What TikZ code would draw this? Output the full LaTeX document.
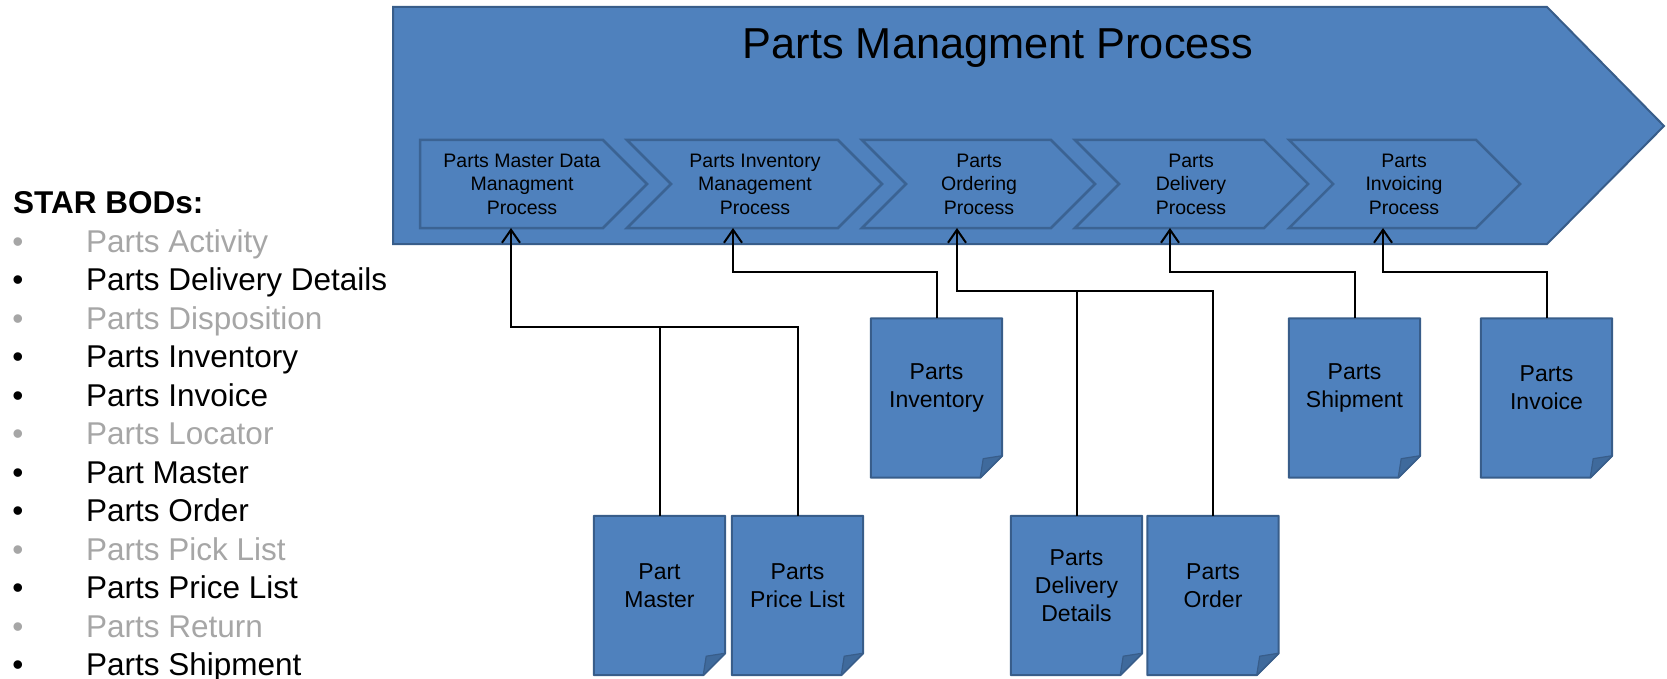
\documentclass[tikz,border=0pt]{standalone}
\usepackage{fontspec}
\setmainfont{Liberation Sans}
\usetikzlibrary{arrows.meta}
\definecolor{procblue}{HTML}{4F81BD}
\definecolor{procedge}{HTML}{385D8A}
\definecolor{chevedge}{HTML}{3B6393}
\definecolor{foldblue}{HTML}{3F6A9C}
\definecolor{listgray}{HTML}{A6A6A6}

% document page: empty slot node, folded-corner outline, caption
\newcommand\docpage[3]{%
  \node[docslot] (#1) at (#2) {};
  \path[docshape] (#1.north west) -- (#1.north east)
     -- ([yshift=22pt]#1.south east) -- ([xshift=-22pt]#1.south east)
     -- (#1.south west) -- cycle;
  \path[docfold] ([yshift=22pt]#1.south east)
     .. controls ([xshift=-10pt,yshift=20pt]#1.south east) .. ([xshift=-19pt,yshift=19pt]#1.south east)
     .. controls ([xshift=-20pt,yshift=10pt]#1.south east) .. ([xshift=-22pt]#1.south east) -- cycle;
  \node[doctext] (#1-label) at ([yshift=10pt]#1.center) {#3};
}

\begin{document}
\begin{tikzpicture}[x=1pt,y=-1pt,
  bigarrow/.style={fill=procblue,draw=procedge,line width=2pt,line join=miter},
  chevshape/.style={fill=procblue,draw=chevedge,line width=2.5pt,line join=miter},
  chevtext/.style={align=center,font=\fontsize{19.5}{23.5}\selectfont,inner sep=0pt},
  docslot/.style={minimum width=131pt,minimum height=159pt,inner sep=0pt,draw=none},
  docshape/.style={fill=procblue,draw=procedge,line width=2pt,line join=round},
  docfold/.style={fill=foldblue,draw=procedge,line width=1.2pt,line join=round},
  doctext/.style={align=center,font=\fontsize{23}{28}\selectfont,inner sep=0pt},
  conn/.style={line width=2pt,draw=black},
  feed/.style={conn,-{Straight Barb[length=13pt,width=18pt,line width=2pt]}},
  listitem/.style={anchor=base west,inner sep=0pt,font=\fontsize{31.5}{38}\selectfont},
  bulletmark/.style={anchor=base,inner sep=0pt,font=\fontsize{31.5}{38}\selectfont},
]
\useasboundingbox (0,0) rectangle (1667,679);

% overall process arrow
\path[bigarrow] (393,7) -- (1547,7) -- (1664,126) -- (1547,244) -- (393,244) -- cycle;
\node[font=\fontsize{43.3}{50}\selectfont,anchor=base,inner sep=0pt] (title) at (998,59) {Parts Managment Process};

% sub-process chevrons
\path[chevshape] (420,140) -- (603,140) -- (647,184) -- (603,228) -- (420,228) -- cycle;
\path[chevshape] (627,140) -- (838,140) -- (882,184) -- (838,228) -- (627,228) -- (671,184) -- cycle;
\path[chevshape] (862,140) -- (1051,140) -- (1095,184) -- (1051,228) -- (862,228) -- (906,184) -- cycle;
\path[chevshape] (1075,140) -- (1264,140) -- (1308,184) -- (1264,228) -- (1075,228) -- (1119,184) -- cycle;
\path[chevshape] (1289,140) -- (1476,140) -- (1520,184) -- (1476,228) -- (1289,228) -- (1333,184) -- cycle;

\node[chevtext] (c1) at (522,184) {Parts Master Data\\Managment\\Process};
\node[chevtext] (c2) at (755,184) {Parts Inventory\\Management\\Process};
\node[chevtext] (c3) at (979,184) {Parts\\Ordering\\Process};
\node[chevtext] (c4) at (1191,184) {Parts\\Delivery\\Process};
\node[chevtext] (c5) at (1404,184) {Parts\\Invoicing\\Process};

% entry points on the chevron bottoms
\coordinate (in1) at (511,228);
\coordinate (in2) at (733,228);
\coordinate (in3) at (957,228);
\coordinate (in4) at (1170,228);
\coordinate (in5) at (1383,228);

% business object documents
\docpage{pm}{659.5,595.5}{Part\\Master}
\docpage{pl}{797.5,595.5}{Parts\\Price List}
\docpage{inv}{936.5,398}{Parts\\Inventory}
\docpage{dd}{1076.5,595.5}{Parts\\Delivery\\Details}
\docpage{po}{1213,595.5}{Parts\\Order}
\docpage{sh}{1354.5,398}{Parts\\Shipment}
\docpage{pi}{1546.5,398}{Parts\\Invoice}

% junctions where two documents share a feed
\coordinate (j1) at (659.5,327);
\coordinate (j3) at (1076.5,291);

% feeds into the sub-processes
\draw[feed] (pm.north) -- (j1) -| (in1);
\draw[conn] (pl.north) |- (j1);
\draw[feed] (inv.north) -- ++(0,-46.5) -| (in2);
\draw[feed] (dd.north) -- (j3) -| (in3);
\draw[conn] (po.north) |- (j3);
\draw[feed] (sh.north) -- ++(0,-46.5) -| (in4);
\draw[feed] (pi.north) -- ++(0,-46.5) -| (in5);

% list of STAR BODs
\node[listitem,font=\bfseries\fontsize{31.5}{38}\selectfont] (bods) at (13,214) {STAR BODs:};
\foreach \yy/\cc/\tt [count=\k] in {
  252.5/listgray/Parts Activity,
  290.9/black/Parts Delivery Details,
  329.4/listgray/Parts Disposition,
  367.9/black/Parts Inventory,
  406.3/black/Parts Invoice,
  444.8/listgray/Parts Locator,
  483.2/black/Part Master,
  521.7/black/Parts Order,
  560.1/listgray/Parts Pick List,
  598.6/black/Parts Price List,
  637.0/listgray/Parts Return,
  675.5/black/Parts Shipment} {
  \node[bulletmark,text=\cc] (mark\k) at (18,\yy) {•};
  \node[listitem,text=\cc] (item\k) at (86,\yy) {\tt};
}
\end{tikzpicture}
\end{document}
